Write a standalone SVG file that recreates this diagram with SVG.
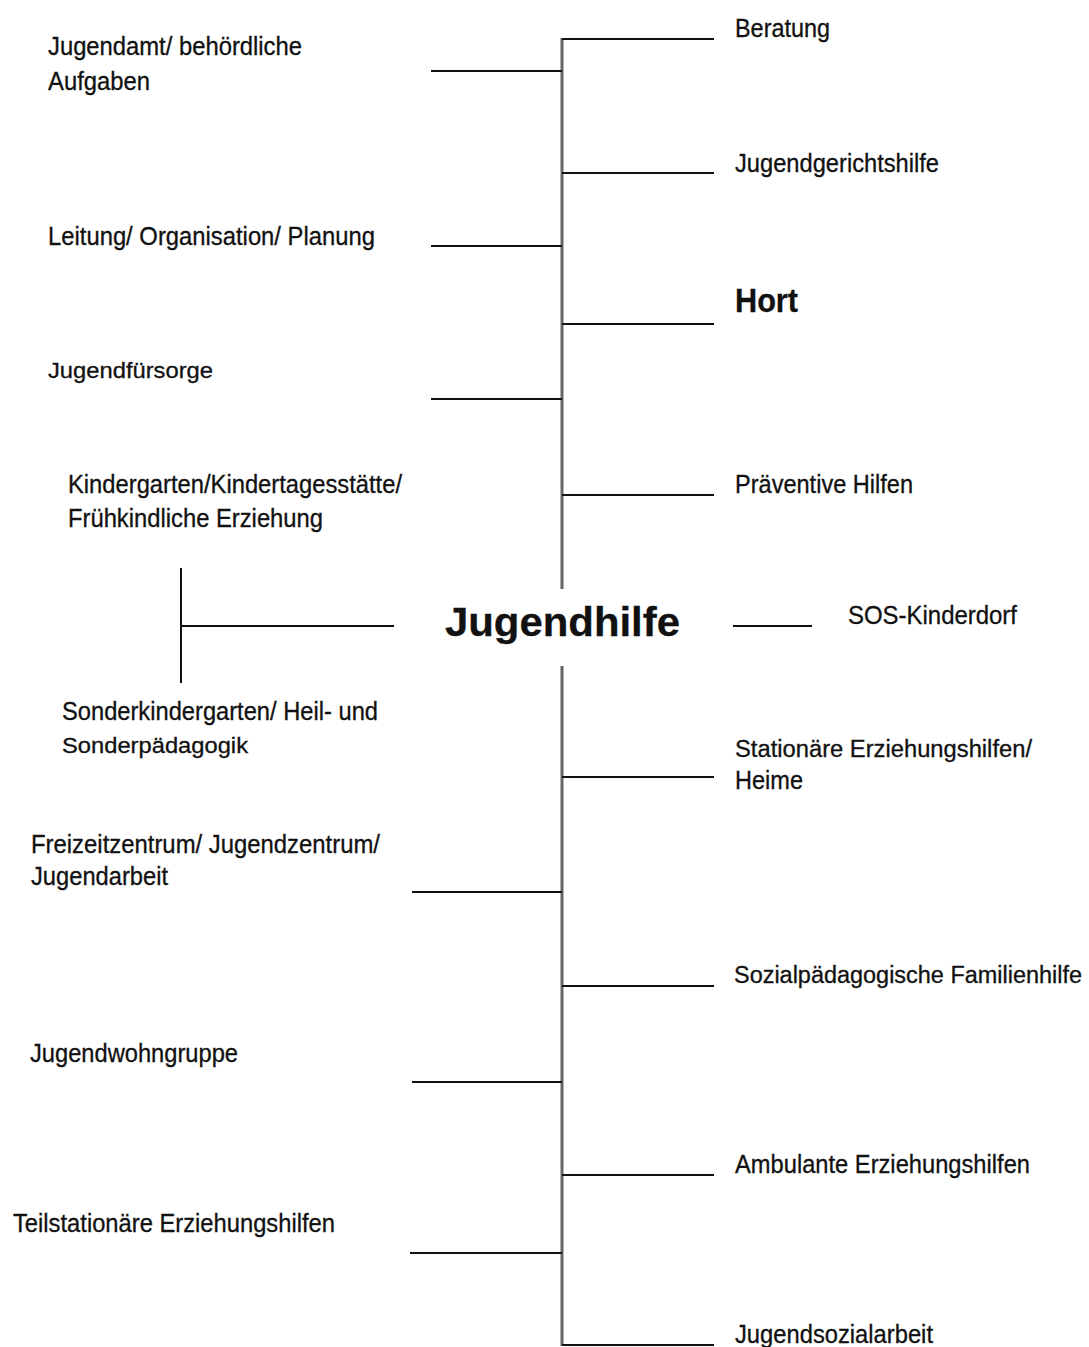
<svg xmlns="http://www.w3.org/2000/svg" width="1089" height="1347" viewBox="0 0 1089 1347">
<style>
text{font-family:"Liberation Sans",Arial,sans-serif;fill:#111;font-size:25px;stroke:#111;stroke-width:0.3px}
.sm{font-size:22px}
.b{font-weight:bold}
.ln{stroke:#111;stroke-width:2;fill:none}
.tr{stroke:#666;stroke-width:3;fill:none}
</style>
<rect width="1089" height="1347" fill="#fff"/>
<g id="connectors">
<line class="tr" x1="562" y1="38" x2="562" y2="589"/>
<line class="tr" x1="562" y1="666" x2="562" y2="1346"/>
<line class="ln" x1="562" y1="39" x2="714" y2="39"/>
<line class="ln" x1="562" y1="173" x2="714" y2="173"/>
<line class="ln" x1="562" y1="324" x2="714" y2="324"/>
<line class="ln" x1="562" y1="495" x2="714" y2="495"/>
<line class="ln" x1="562" y1="777" x2="714" y2="777"/>
<line class="ln" x1="562" y1="986" x2="714" y2="986"/>
<line class="ln" x1="562" y1="1175" x2="714" y2="1175"/>
<line class="ln" x1="562" y1="1345" x2="714" y2="1345"/>
<line class="ln" x1="431" y1="71" x2="562" y2="71"/>
<line class="ln" x1="431" y1="246" x2="562" y2="246"/>
<line class="ln" x1="431" y1="399" x2="562" y2="399"/>
<line class="ln" x1="412" y1="892" x2="562" y2="892"/>
<line class="ln" x1="412" y1="1082" x2="562" y2="1082"/>
<line class="ln" x1="410" y1="1253" x2="562" y2="1253"/>
<line class="ln" x1="181" y1="568" x2="181" y2="683"/>
<line class="ln" x1="181" y1="626" x2="394" y2="626"/>
<line class="ln" x1="733" y1="626" x2="812" y2="626"/>
</g>
<g id="center"><text class="b" x="445" y="636" textLength="235" lengthAdjust="spacingAndGlyphs" style="font-size:41px">Jugendhilfe</text></g>
<g id="n-jugendamt"><text x="48" y="55" textLength="254" lengthAdjust="spacingAndGlyphs">Jugendamt/ behördliche</text><text x="48" y="90" textLength="102" lengthAdjust="spacingAndGlyphs">Aufgaben</text></g>
<g id="n-leitung"><text x="48" y="245" textLength="327" lengthAdjust="spacingAndGlyphs">Leitung/ Organisation/ Planung</text></g>
<g id="n-jugendfuersorge"><text class="sm" x="48" y="378" textLength="165" lengthAdjust="spacingAndGlyphs">Jugendfürsorge</text></g>
<g id="n-kindergarten"><text x="68" y="493" textLength="334" lengthAdjust="spacingAndGlyphs">Kindergarten/Kindertagesstätte/</text><text x="68" y="527" textLength="255" lengthAdjust="spacingAndGlyphs">Frühkindliche Erziehung</text></g>
<g id="n-sonderkindergarten"><text x="62" y="720" textLength="316" lengthAdjust="spacingAndGlyphs">Sonderkindergarten/ Heil- und</text><text class="sm" x="62" y="753" textLength="186" lengthAdjust="spacingAndGlyphs">Sonderpädagogik</text></g>
<g id="n-freizeitzentrum"><text x="31" y="853" textLength="349" lengthAdjust="spacingAndGlyphs">Freizeitzentrum/ Jugendzentrum/</text><text x="31" y="885" textLength="137" lengthAdjust="spacingAndGlyphs">Jugendarbeit</text></g>
<g id="n-jugendwohngruppe"><text x="30" y="1062" textLength="208" lengthAdjust="spacingAndGlyphs">Jugendwohngruppe</text></g>
<g id="n-teilstationaer"><text x="13" y="1232" textLength="322" lengthAdjust="spacingAndGlyphs">Teilstationäre Erziehungshilfen</text></g>
<g id="n-beratung"><text x="735" y="37" textLength="95" lengthAdjust="spacingAndGlyphs">Beratung</text></g>
<g id="n-jugendgerichtshilfe"><text x="735" y="172" textLength="204" lengthAdjust="spacingAndGlyphs">Jugendgerichtshilfe</text></g>
<g id="n-hort"><text class="b" x="735" y="312" textLength="63" lengthAdjust="spacingAndGlyphs" style="font-size:33px">Hort</text></g>
<g id="n-praeventive"><text x="735" y="493" textLength="178" lengthAdjust="spacingAndGlyphs">Präventive Hilfen</text></g>
<g id="n-sos"><text x="848" y="624" textLength="169" lengthAdjust="spacingAndGlyphs">SOS-Kinderdorf</text></g>
<g id="n-stationaer"><text x="735" y="757" textLength="297" lengthAdjust="spacingAndGlyphs" style="font-size:23px">Stationäre Erziehungshilfen/</text><text x="735" y="789" textLength="68" lengthAdjust="spacingAndGlyphs">Heime</text></g>
<g id="n-sozialpaedagogische"><text x="734" y="983" textLength="348" lengthAdjust="spacingAndGlyphs" style="font-size:23px">Sozialpädagogische Familienhilfe</text></g>
<g id="n-ambulante"><text x="735" y="1173" textLength="295" lengthAdjust="spacingAndGlyphs">Ambulante Erziehungshilfen</text></g>
<g id="n-jugendsozialarbeit"><text x="735" y="1343" textLength="198" lengthAdjust="spacingAndGlyphs">Jugendsozialarbeit</text></g>
</svg>
